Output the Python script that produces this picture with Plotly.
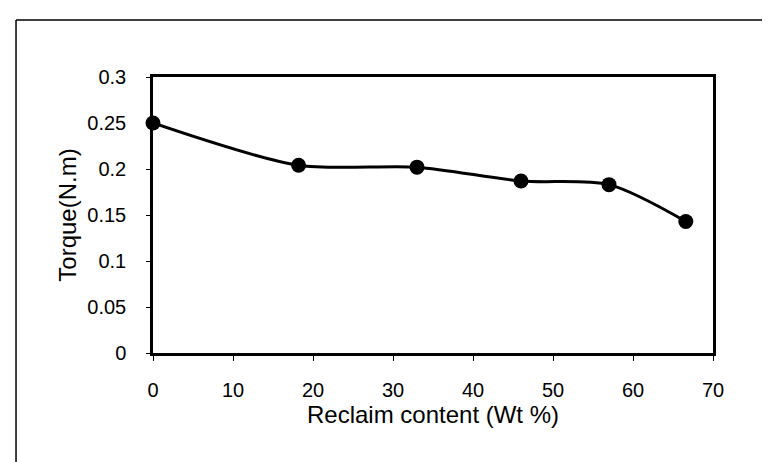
import plotly.graph_objects as go

reclaim = [0, 18.2, 33, 46, 57, 66.6]
torque = [0.25, 0.204, 0.202, 0.187, 0.183, 0.143]
x_ticks = [0, 10, 20, 30, 40, 50, 60, 70]
y_ticks = [0, 0.05, 0.1, 0.15, 0.2, 0.25, 0.3]
y_tick_text = ["0", "0.05", "0.1", "0.15", "0.2", "0.25", "0.3"]

fig = go.Figure()
fig.add_trace(go.Scatter(
    x=reclaim, y=torque, mode="lines+markers",
    line=dict(color="black", width=3, shape="spline", smoothing=0.8),
    marker=dict(color="black", size=15),
    showlegend=False, cliponaxis=False,
))

font = dict(family="Liberation Sans, Arial, sans-serif", size=20, color="black")
fig.update_layout(
    width=770, height=462,
    margin=dict(l=145, r=65, t=69, b=117),
    paper_bgcolor="white", plot_bgcolor="white",
    font=font,
    xaxis=dict(range=[0, 70], tickvals=x_ticks, showgrid=False, zeroline=False,
               showline=True, linecolor="black", linewidth=2.5, mirror=True,
               ticks="outside", ticklen=5, tickcolor="black", tickwidth=1,
               ticklabelstandoff=12,
               title=dict(text="Reclaim content (Wt %)", standoff=6)),
    yaxis=dict(range=[0, 0.3], tickvals=y_ticks, ticktext=y_tick_text,
               showgrid=False, zeroline=False,
               showline=True, linecolor="black", linewidth=2.5, mirror=True,
               ticks="outside", ticklen=4, tickcolor="black", tickwidth=1,
               ticklabelstandoff=16,
               title=dict(text="Torque(N.m)", standoff=4)),
    shapes=[
        dict(type="line", xref="paper", yref="paper", x0=-0.2446, x1=1.2, y0=1.2065, y1=1.2065,
             line=dict(color="black", width=1.5)),
        dict(type="line", xref="paper", yref="paper", x0=-0.2446, x1=-0.2446, y0=1.2065, y1=-0.43,
             line=dict(color="black", width=1.5)),
    ],
)

fig.write_html("out.html")
